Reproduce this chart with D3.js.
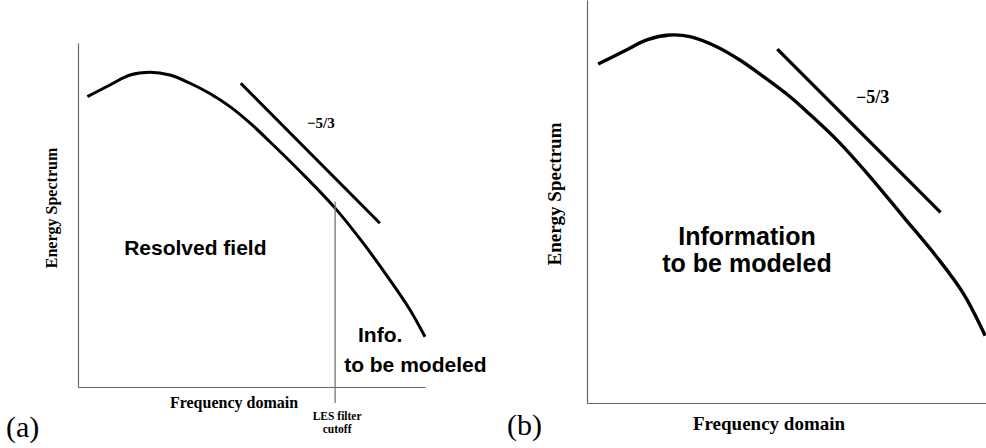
<!DOCTYPE html>
<html>
<head>
<meta charset="utf-8">
<script src="https://cdn.jsdelivr.net/npm/d3@7"></script>
<style>
  html, body { margin: 0; padding: 0; background: #fff; }
  svg { display: block; }
</style>
</head>
<body>
<div class="canvas"></div>
<script>
// Energy spectrum curve, panel (a): [frequency, energy] in arbitrary units 0..100
const spectrumA = [
    [2.7, 84.4], [9.2, 87.8], [15.0, 90.7], [20.7, 91.5], [26.5, 90.7],
    [32.3, 88.3], [38.0, 85.3], [43.8, 81.5], [49.6, 76.7], [55.3, 71.3],
    [63.9, 62.8], [74.1, 52.0], [82.2, 41.8], [89.9, 31.1], [95.7, 22.4],
    [100, 14.6]
];
// Energy spectrum curve, panel (b)
const spectrumB = [
    [2.8, 84.1], [9.1, 87.2], [15.0, 90.1], [20.8, 91.3], [25.8, 90.9],
    [32.5, 88.4], [38.3, 85.1], [44.2, 81.0], [50.9, 76.0], [55.1, 72.3],
    [62.6, 65.3], [70.9, 56.2], [79.3, 46.2], [87.6, 36.3], [94.3, 27.2],
    [99.8, 16.7]
];
// -5/3 reference slope segments
const slopeA = [[46.9, 88.3], [87.0, 47.6]];
const slopeB = [[47.7, 87.8], [88.6, 47.3]];
// LES filter cutoff (frequency) and where its marker starts (energy)
const cutoffA = { x: 74.1, yTop: 53.9 };
const cutoffLabels = ['LES filter', 'cutoff'];

const width = 986, height = 448;

const svg = d3.select('.canvas')
    .append('svg')
    .attr('width', width)
    .attr('height', height);

function drawPanel(cfg) {
    const x = d3.scaleLinear().domain([0, 100]).range(cfg.xRange);
    const y = d3.scaleLinear().domain([0, 100]).range(cfg.yRange);
    const g = svg.append('g');

    // Axes (no ticks, just the lines)
    const axisStyle = sel => {
        sel.selectAll('.tick').remove();
        sel.select('.domain').attr('stroke', '#666').attr('stroke-width', 1.2);
    };
    g.append('g')
        .attr('transform', `translate(0,${cfg.yRange[0]})`)
        .call(d3.axisBottom(x).tickValues([]).tickSizeOuter(0))
        .call(axisStyle);
    g.append('g')
        .attr('transform', `translate(${cfg.xRange[0]},0)`)
        .call(d3.axisLeft(y).tickValues([]).tickSizeOuter(0))
        .call(axisStyle);

    const line = d3.line()
        .x(d => x(d[0]))
        .y(d => y(d[1]))
        .curve(d3.curveCatmullRom);

    g.append('path')
        .datum(cfg.spectrum)
        .attr('fill', 'none')
        .attr('stroke', '#000')
        .attr('stroke-width', cfg.lw)
        .attr('d', line);

    g.append('path')
        .datum(cfg.slope)
        .attr('fill', 'none')
        .attr('stroke', '#000')
        .attr('stroke-width', cfg.lw)
        .attr('d', d3.line().x(d => x(d[0])).y(d => y(d[1])));

    // -5/3 label
    g.append('text')
        .attr('x', x(cfg.slopeLabel[0]))
        .attr('y', y(cfg.slopeLabel[1]))
        .attr('font-family', 'Liberation Serif, Times New Roman, serif')
        .attr('font-weight', 'bold')
        .attr('font-size', cfg.slopeFont)
        .text('\u22125/3');

    // axis titles
    g.append('text')
        .attr('x', cfg.xTitle[0])
        .attr('y', cfg.xTitle[1])
        .attr('text-anchor', 'middle')
        .attr('font-family', 'Liberation Serif, Times New Roman, serif')
        .attr('font-weight', 'bold')
        .attr('font-size', cfg.titleFont)
        .text('Frequency domain');

    g.append('text')
        .attr('transform', `translate(${cfg.yTitle[0]},${cfg.yTitle[1]}) rotate(-90)`)
        .attr('text-anchor', 'middle')
        .attr('font-family', 'Liberation Serif, Times New Roman, serif')
        .attr('font-weight', 'bold')
        .attr('font-size', cfg.titleFont)
        .text('Energy Spectrum');

    // region labels
    cfg.labels.forEach(l => {
        g.append('text')
            .attr('x', x(l.x))
            .attr('y', y(l.y))
            .attr('text-anchor', l.anchor || 'start')
            .attr('font-family', 'Liberation Sans, Arial, sans-serif')
            .attr('font-weight', 'bold')
            .attr('font-size', cfg.labelFont)
            .text(l.text);
    });

    // panel tag
    g.append('text')
        .attr('x', cfg.tag[0])
        .attr('y', cfg.tag[1])
        .attr('font-family', 'Liberation Serif, Times New Roman, serif')
        .attr('font-size', 30)
        .text(cfg.tagText);

    return { g, x, y };
}

// Panel (a)
const a = drawPanel({
    xRange: [78, 425], yRange: [387, 43],
    spectrum: spectrumA, slope: slopeA, lw: 3,
    slopeLabel: [66.0, 75.3], slopeFont: 15,
    xTitle: [234, 408], yTitle: [57, 208], titleFont: 16,
    labelFont: 21,
    labels: [
        { text: 'Resolved field', x: 13.3, y: 38.4 },
        { text: 'Info.', x: 80.7, y: 13.1 },
        { text: 'to be modeled', x: 76.7, y: 4.4 }
    ],
    tag: [6, 437], tagText: '(a)'
});

// LES filter cutoff marker
a.g.append('line')
    .attr('x1', a.x(cutoffA.x)).attr('x2', a.x(cutoffA.x))
    .attr('y1', a.y(cutoffA.yTop)).attr('y2', a.y(0) + 16)
    .attr('stroke', '#777')
    .attr('stroke-width', 1.3);

a.g.selectAll('.cutoff-label')
    .data(cutoffLabels)
    .enter()
    .append('text')
    .attr('class', 'cutoff-label')
    .attr('x', a.x(cutoffA.x) + 2)
    .attr('y', (d, i) => a.y(0) + 33 + i * 13)
    .attr('text-anchor', 'middle')
    .attr('font-family', 'Liberation Serif, Times New Roman, serif')
    .attr('font-weight', 'bold')
    .attr('font-size', 11.5)
    .text(d => d);

// Panel (b)
drawPanel({
    xRange: [587, 986], yRange: [403, 0],
    spectrum: spectrumB, slope: slopeB, lw: 3.4,
    slopeLabel: [67.4, 74.5], slopeFont: 18,
    xTitle: [769, 430], yTitle: [561, 194], titleFont: 19,
    labelFont: 25,
    labels: [
        { text: 'Information', x: 40.1, y: 39.2, anchor: 'middle' },
        { text: 'to be modeled', x: 40.1, y: 32.5, anchor: 'middle' }
    ],
    tag: [507, 435], tagText: '(b)'
});
</script>
</body>
</html>
